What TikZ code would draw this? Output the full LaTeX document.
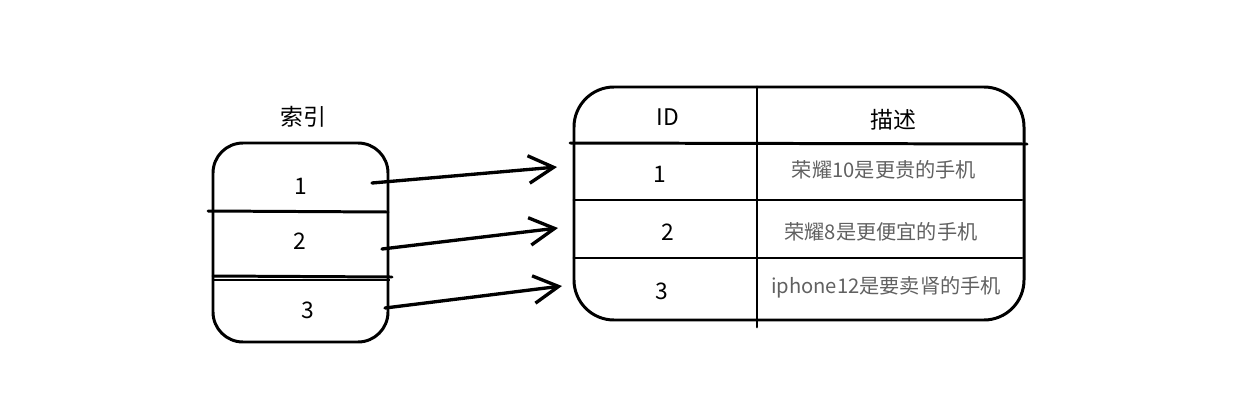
\documentclass[tikz,border=0pt]{standalone}
\usepackage{fontspec}
\newfontfamily\cjk{Noto Sans CJK SC}
\usepackage{tikz}
\usetikzlibrary{arrows.meta,calc,positioning}

\begin{document}
\begin{tikzpicture}[x=0.02cm, y=-0.02cm, every node/.style={font=\cjk\fontsize{13}{15}\selectfont, inner sep=1pt}]
    \useasboundingbox (0,0) rectangle (1245,413);
    \tikzset{sketch/.style={line width=1.7pt, line cap=round, line join=round},
             desc/.style={font=\cjk\fontsize{11.5}{13}\selectfont, text=black!62}}

    % index block
    \draw[sketch, rounded corners=0.6cm] (213,143) rectangle (388,342);
    \draw[sketch] (208,211) -- (388,212);
    \draw[sketch] (213,276) -- (392,277);
    \draw[line width=0.6pt] (213,280) -- (390,280);
    \node (title) at (303,117) {索引};
    \node (k1) at (301,186) {1};
    \node (k2) at (300,241) {2};
    \node (k3) at (308,310) {3};

    % table
    \draw[sketch, rounded corners=0.8cm] (574,87) rectangle (1024,320);
    \draw[sketch] (757,87) -- (757,327);
    \draw[sketch] (570,143) -- (1027,144);
    \draw[sketch] (574,200) -- (1022,200);
    \draw[sketch] (574,258) -- (1022,258);

    \node (hid) at (668,117) {ID};
    \node (hdesc) at (893,120) {描述};
    \node (r1) at (660,174) {1};
    \node (r2) at (668,232) {2};
    \node (r3) at (662,291) {3};
    \node[desc] (d1) at (884,170) {荣耀10是更贵的手机};
    \node[desc] (d2) at (881,232) {荣耀8是更便宜的手机};
    \node[desc] (d3) at (886,287) {iphone12是要卖肾的手机};

    % arrow ends
    \coordinate (a1) at (372,183);
    \coordinate (a2) at (382,249);
    \coordinate (a3) at (385,308);
    \coordinate (b1) at (557,167);
    \coordinate (b2) at (558,228);
    \coordinate (b3) at (562,286);

    \foreach \i in {1,2,3}
        \draw[sketch, line width=1.9pt, -{Straight Barb[length=5mm, width=5.5mm]}] (a\i) -- (b\i);
\end{tikzpicture}
\end{document}
